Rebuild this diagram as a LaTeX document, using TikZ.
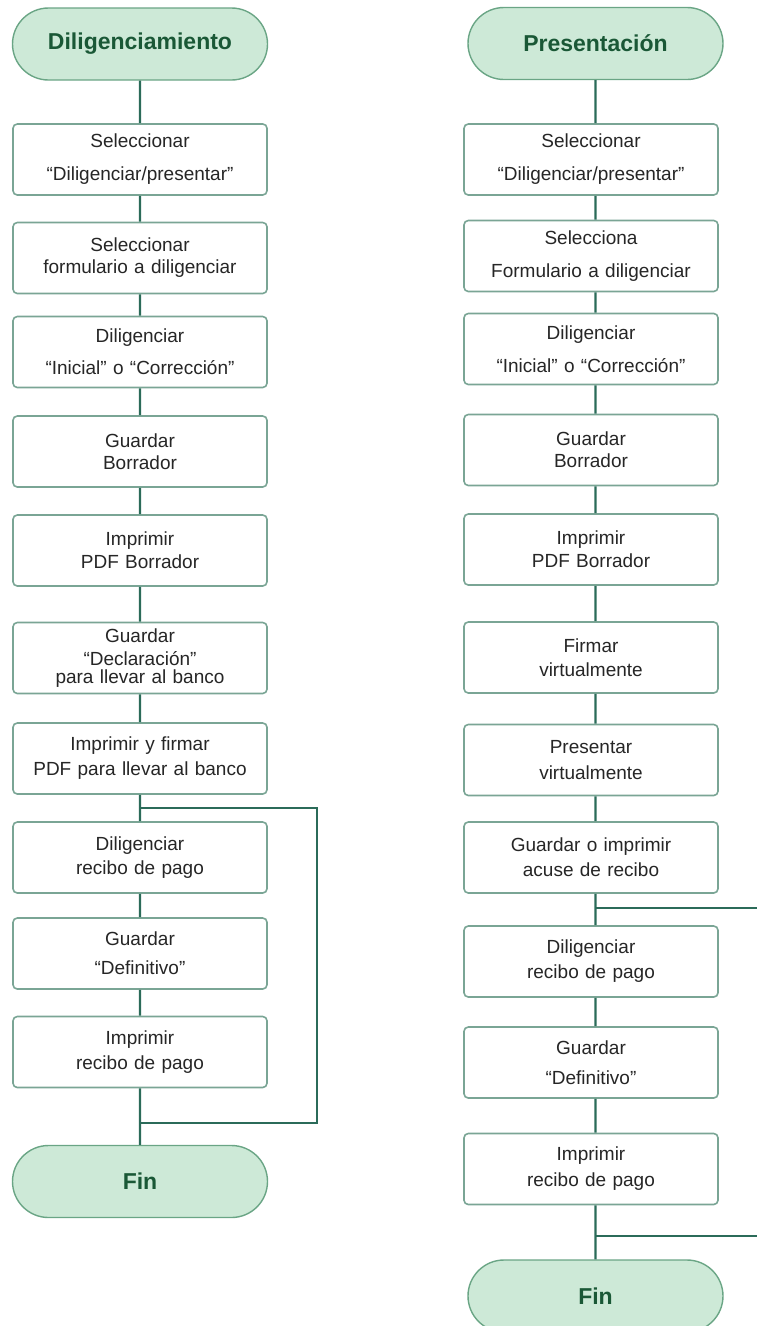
\documentclass[tikz,border=0pt]{standalone}
\usepackage{fontspec}
\setmainfont{Liberation Sans}
\usetikzlibrary{shapes.misc,calc}
\definecolor{ink}{HTML}{262626}
\definecolor{wire}{HTML}{2B6B59}
\definecolor{frame}{HTML}{7AA595}
\definecolor{mint}{HTML}{CDE9D7}
\definecolor{mintline}{HTML}{6AA585}
\definecolor{deep}{HTML}{1A5836}
\tikzset{every node/.style={font=\fontsize{19}{22}\selectfont,text=ink,align=center},
stepbox/.style={draw=frame,line width=1.6pt,rounded corners=1.5mm,fill=white,
  text width=252pt,minimum width=254pt,minimum height=71pt,inner sep=0pt},
term/.style={rounded rectangle,draw=mintline,line width=1.4pt,fill=mint,
  minimum width=255pt,minimum height=72pt,inner sep=0pt,
  font=\fontsize{23}{26}\selectfont\bfseries,text=deep},
wire/.style={draw=wire,line width=2.2pt}}

\begin{document}
\begin{tikzpicture}[x=1pt,y=1pt]
\useasboundingbox (0,0) rectangle (756,-1326);
\node[term] (ls) at (140,-44) {Diligenciamiento};
\node[stepbox] (l1) at (140,-159.5) {Seleccionar\\[11pt]“Diligenciar/presentar”};
\node[stepbox] (l2) at (140,-258) {Seleccionar\\formulario a diligenciar};
\node[stepbox] (l3) at (140,-352) {Diligenciar\\[10pt]“Inicial” o “Corrección”};
\node[stepbox] (l4) at (140,-451.5) {Guardar\\Borrador};
\node[stepbox] (l5) at (140,-550.5) {Imprimir\\[1pt]PDF Borrador};
\node[stepbox] (l6) at (140,-658) {Guardar\\[1pt]“Declaración”\\[-4pt]para llevar al banco};
\node[stepbox] (l7) at (140,-758.5) {Imprimir y firmar\\[3pt]PDF para llevar al banco};
\node[stepbox] (l8) at (140,-857.5) {Diligenciar\\[2pt]recibo de pago};
\node[stepbox] (l9) at (140,-953.5) {Guardar\\[7pt]“Definitivo”};
\node[stepbox] (l10) at (140,-1052) {Imprimir\\[3pt]recibo de pago};
\node[term] (lf) at (140,-1181.5) {Fin};
\draw[wire] (ls)--(l1) (l1)--(l2) (l2)--(l3) (l3)--(l4) (l4)--(l5)
  (l5)--(l6) (l6)--(l7) (l7)--(l8) (l8)--(l9) (l9)--(l10) (l10)--(lf);
\coordinate (lsplit) at (140,-808);
\coordinate (ljoin) at (140,-1123);
\draw[wire] (lsplit)--++(177,0)|-(ljoin);

\node[term] (rs) at (595.5,-43.5) {Presentación};
\coordinate (rx) at (595.5,0);
\node[stepbox] (r1) at (591,-159.5) {Seleccionar\\[11pt]“Diligenciar/presentar”};
\node[stepbox] (r2) at (591,-256) {Selecciona\\[11pt]Formulario a diligenciar};
\node[stepbox] (r3) at (591,-349) {Diligenciar\\[11pt]“Inicial” o “Corrección”};
\node[stepbox] (r4) at (591,-450) {Guardar\\Borrador};
\node[stepbox] (r5) at (591,-549.5) {Imprimir\\[1pt]PDF Borrador};
\node[stepbox] (r6) at (591,-657.5) {Firmar\\[2pt]virtualmente};
\node[stepbox] (r7) at (591,-760) {Presentar\\[4pt]virtualmente};
\node[stepbox] (r8) at (591,-857.5) {Guardar o imprimir\\[3pt]acuse de recibo};
\node[stepbox] (r9) at (591,-961.5) {Diligenciar\\[3pt]recibo de pago};
\node[stepbox] (r10) at (591,-1062.5) {Guardar\\[8pt]“Definitivo”};
\node[stepbox] (r11) at (591,-1169) {Imprimir\\[4pt]recibo de pago};
\node[term] (rf) at (595.5,-1296) {Fin};
\draw[wire] (rs)--(r1.north-|rx) (r1.south-|rx)--(r2.north-|rx)
  (r2.south-|rx)--(r3.north-|rx) (r3.south-|rx)--(r4.north-|rx)
  (r4.south-|rx)--(r5.north-|rx) (r5.south-|rx)--(r6.north-|rx)
  (r6.south-|rx)--(r7.north-|rx) (r7.south-|rx)--(r8.north-|rx)
  (r8.south-|rx)--(r9.north-|rx) (r9.south-|rx)--(r10.north-|rx)
  (r10.south-|rx)--(r11.north-|rx) (r11.south-|rx)--(rf);
\coordinate (rsplit) at (595.5,-908);
\coordinate (rjoin) at (595.5,-1236);
\draw[wire] (rsplit)--++(180,0)|-(rjoin);
\end{tikzpicture}
\end{document}
